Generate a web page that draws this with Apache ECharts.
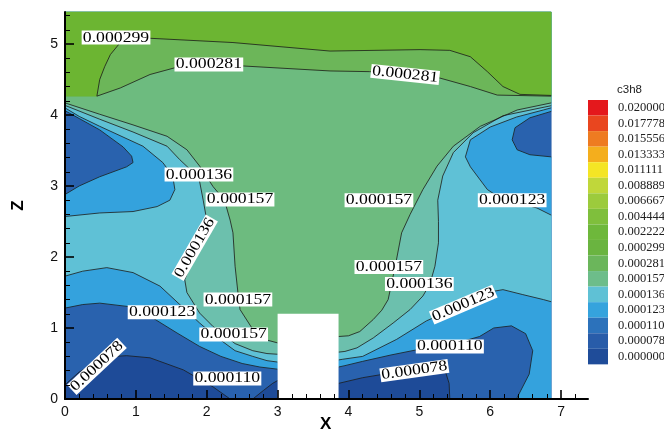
<!DOCTYPE html>
<html>
<head>
<meta charset="utf-8">
<title>c3h8 contours</title>
<script src="https://cdn.jsdelivr.net/npm/echarts@6/dist/echarts.min.js"></script>
<style>
  html, body { margin: 0; padding: 0; background: #ffffff; }
  #chart { width: 664px; height: 430px; }
</style>
</head>
<body>
<div id="chart"></div>
<script>
// ---- domain of the field (x, z) ----
const domainRight = 6.86;
const domainTop = 5.45;
const obstacleBox = [3.0, 3.86, 1.2];   // x from, x to, height

// ---- contour lines, one array per level and branch ([x, z] pairs) ----
const c078Left   = [[0,0.20],[0.2,0.38],[0.45,0.52],[0.7,0.60],[0.87,0.61],[1.2,0.58],[1.67,0.41],[2.09,0.17],[2.33,0]];
const c078Pocket = [[2.65,0],[2.8,0.12],[2.93,0.22],[3.0,0.26]];
const c078Right  = [[3.86,0.22],[4.2,0.30],[4.5,0.35],[4.93,0.40],[5.25,0.43],[5.37,0.38],[5.42,0.22],[5.43,0]];

const c110BlobLeft  = [[0,4.06],[0.2,3.95],[0.49,3.79],[0.82,3.55],[0.94,3.42],[0.96,3.33],[0.87,3.27],[0.49,3.13],[0.2,3.0],[0,2.88]];
const c110Left      = [[0,1.28],[0.25,1.33],[0.49,1.35],[0.91,1.30],[1.24,1.14],[1.58,0.93],[1.9,0.74],[2.2,0.60],[2.5,0.50],[2.75,0.45],[3.0,0.42]];
const c110Right     = [[3.86,0.45],[3.95,0.47],[4.2,0.53],[4.6,0.62],[5.0,0.70],[5.43,0.76],[5.85,0.88],[6.05,1.0],[6.3,1.03],[6.5,0.92],[6.6,0.68],[6.55,0.35],[6.37,0]];
const c110BlobRight = [[6.86,3.41],[6.56,3.44],[6.38,3.51],[6.31,3.65],[6.35,3.82],[6.56,3.96],[6.86,4.05]];

const c123UpperLeft  = [[0,4.10],[0.2,3.98],[0.49,3.84],[1.1,3.56],[1.38,3.33],[1.52,3.14],[1.55,2.95],[1.48,2.80],[1.3,2.71],[0.96,2.64],[0.49,2.62],[0,2.57]];
const c123Left       = [[0,1.73],[0.25,1.80],[0.59,1.85],[0.96,1.78],[1.34,1.59],[1.62,1.33],[1.9,1.07],[2.1,0.90],[2.4,0.68],[2.65,0.60],[2.85,0.54],[3.0,0.52]];
const c123Right      = [[3.86,0.55],[3.92,0.56],[4.2,0.60],[4.68,0.84],[5.1,1.10],[5.62,1.33],[5.95,1.50],[6.18,1.54],[6.46,1.47],[6.75,1.40],[6.86,1.37]];
const c123UpperRight = [[6.86,2.59],[6.66,2.69],[6.14,2.83],[5.96,2.95],[5.72,3.27],[5.65,3.41],[5.72,3.65],[6.0,3.83],[6.37,3.97],[6.75,4.07],[6.86,4.10]];

const c136Left  = [[0,4.135],[0.49,3.94],[0.96,3.76],[1.44,3.56],[1.62,3.37],[1.78,3.22],[1.9,3.06],[1.95,2.80],[2.0,2.52],[1.85,2.10],[1.69,1.68],[1.72,1.50],[1.9,1.21],[2.09,1.02],[2.4,0.78],[2.65,0.68],[2.85,0.64],[3.0,0.63]];
const c136Right = [[3.86,0.66],[3.95,0.67],[4.12,0.72],[4.35,0.86],[4.63,1.07],[4.87,1.26],[5.05,1.45],[5.15,1.62],[5.22,1.87],[5.27,2.20],[5.27,2.50],[5.26,2.80],[5.33,3.14],[5.48,3.47],[5.76,3.75],[6.18,3.99],[6.86,4.13]];

const c157Left  = [[0,4.17],[0.49,4.01],[0.96,3.86],[1.44,3.70],[1.72,3.51],[1.9,3.28],[2.09,2.99],[2.25,2.80],[2.33,2.52],[2.37,2.34],[2.4,1.87],[2.44,1.50],[2.47,1.26],[2.65,0.98],[2.85,0.83],[3.0,0.79]];
const c157Right = [[3.86,0.88],[4.0,0.89],[4.16,0.95],[4.35,1.12],[4.47,1.25],[4.56,1.40],[4.66,1.87],[4.75,2.34],[4.87,2.60],[5.05,2.95],[5.25,3.28],[5.48,3.56],[5.86,3.84],[6.38,4.07],[6.86,4.17]];

const c281 = [[0.45,4.265],[0.78,4.38],[1.2,4.57],[1.57,4.67],[2.51,4.69],[3.74,4.62],[4.3,4.61],[4.8,4.57],[5.29,4.52],[5.72,4.40],[6.1,4.28],[6.86,4.265]];
const c299 = [[0.45,4.265],[0.49,4.50],[0.56,4.68],[0.64,4.85],[0.78,5.02],[1.2,5.08],[2.37,5.02],[3.74,4.90],[5.01,4.92],[5.43,4.91],[5.72,4.82],[5.96,4.61],[6.18,4.40],[6.42,4.29],[6.86,4.275]];

// ---- contour label values and where they sit ----
const labelLevels = [0.000299, 0.000281, 0.000281, 0.000136, 0.000157, 0.000157, 0.000123, 0.000136, 0.000157,
                     0.000123, 0.000157, 0.000078, 0.000110, 0.000157, 0.000136, 0.000123, 0.000110, 0.000078];
const labelX      = [0.72, 2.03, 4.80, 1.89, 2.47, 4.43, 6.31, 1.83, 2.44, 1.37, 2.38, 0.45, 2.29, 4.57, 5.00, 5.62, 5.43, 4.93];
const labelZ      = [5.09, 4.71, 4.57, 3.16, 2.81, 2.80, 2.80, 2.13, 1.40, 1.22, 0.91, 0.46, 0.29, 1.86, 1.62, 1.33, 0.74, 0.40];
const labelAngle  = [0, 0, -6, 0, 0, 0, 0, 60, 0, 0, 0, 43, 0, 0, 0, 23, 0, 8];

// ---- legend levels (low to high) and colours ----
const legendLevels = [0.000000, 0.000078, 0.000110, 0.000123, 0.000136, 0.000157, 0.000281, 0.000299,
                      0.002222, 0.004444, 0.006667, 0.008889, 0.011111, 0.013333, 0.015556, 0.017778, 0.020000];
const legendColors = ['#1f4c99', '#285ca9', '#2c72bb', '#35a3dd', '#5fc1d5', '#6dbd8a', '#6bb65b', '#6ab440',
                      '#6eb83b', '#7fbf3c', '#9ccb3c', '#c0d73a', '#f4e525', '#f4ae1d', '#ee7b21', '#e9461f', '#e4181c'];

// ---- flood colours of the bands drawn in the field ----
const bandColors = {
  0:        '#1e4b98',
  0.000078: '#2962ae',
  0.000110: '#34a2dd',
  0.000123: '#5fc1d6',
  0.000136: '#6cc0ad',
  0.000157: '#6dbb7f',
  0.000281: '#6cb659',
  0.000299: '#6cb532'
};

// Regions where c3h8 >= level, assembled from the contour branches and the domain edges.
const R = domainRight, T = domainTop;
const floodLayers = [
  { level: 0,        path: [[0,0],[R,0],[R,T],[0,T]] },
  { level: 0.000078, path: [[0,T], ...c078Left, ...c078Pocket, ...c078Right, [R,0], [R,T]] },
  { level: 0.000110, path: [[0,T], ...c110BlobLeft, ...c110Left, ...c110Right, [R,0], ...c110BlobRight, [R,T]] },
  { level: 0.000123, path: [[0,T], ...c123UpperLeft, ...c123Left, ...c123Right, ...c123UpperRight, [R,T]] },
  { level: 0.000136, path: [[0,T], ...c136Left, ...c136Right, [R,T]] },
  { level: 0.000157, path: [[0,T], ...c157Left, ...c157Right, [R,T]] },
  { level: 0.000281, path: [[0,T], [0,4.265], ...c281, [R,T]] },
  { level: 0.000299, path: [[0,T], [0,4.265], ...c299, [R,T]] }
];

const contourLines = [
  c078Left, c078Pocket, c078Right,
  c110BlobLeft, c110Left, c110Right, c110BlobRight,
  c123UpperLeft, c123Left, c123Right, c123UpperRight,
  c136Left, c136Right, c157Left, c157Right, c281, c299
];

const sansFont = '"Liberation Sans", Arial, sans-serif';
const serifFont = '"Liberation Serif", "Times New Roman", serif';

const chart = echarts.init(document.getElementById('chart'), null, { renderer: 'canvas' });

const legendPieces = legendLevels.map((lv, i) => {
  const piece = { min: lv, label: lv.toFixed(6), color: legendColors[i] };
  if (i < legendLevels.length - 1) piece.max = legendLevels[i + 1];
  return piece;
});

const majorX = [0, 1, 2, 3, 4, 5, 6, 7];
const majorZ = [0, 1, 2, 3, 4, 5];

chart.setOption({
  animation: false,
  backgroundColor: '#ffffff',
  title: [
    {
      text: 'c3h8',
      left: 617, top: 84, padding: 0,
      textStyle: { fontFamily: sansFont, fontSize: 11.5, fontWeight: 'normal', color: '#222' }
    },
    {
      // horizontal axis title, sitting on the lower edge
      text: 'X',
      left: 320, top: 416, padding: 0,
      textStyle: { fontFamily: sansFont, fontSize: 17, fontWeight: 'bold', color: '#000' }
    }
  ],
  grid: { left: 65, right: 76, top: 12, bottom: 31, containLabel: false },
  xAxis: {
    type: 'value', min: 0, max: 7.38, interval: 1, z: 10,
    axisLine: { show: true, onZero: false, lineStyle: { color: '#000', width: 2 } },
    axisTick: { show: true, inside: true, length: 9, customValues: majorX, lineStyle: { color: '#000', width: 1.6 } },
    minorTick: { show: true, splitNumber: 5, length: 5, lineStyle: { color: '#000', width: 1 } },
    axisLabel: { customValues: majorX, margin: 6, fontFamily: sansFont, fontSize: 14, color: '#111' },
    splitLine: { show: false }
  },
  yAxis: {
    type: 'value', min: 0, max: domainTop, interval: 1, z: 10,
    name: 'Z', nameLocation: 'middle', nameRotate: 90, nameGap: 38,
    nameTextStyle: { fontFamily: sansFont, fontSize: 17, fontWeight: 'bold', color: '#000' },
    axisLine: { show: true, onZero: false, lineStyle: { color: '#000', width: 2 } },
    axisTick: { show: true, inside: true, length: 9, customValues: majorZ, lineStyle: { color: '#000', width: 1.6 } },
    minorTick: { show: true, splitNumber: 5, length: 5, lineStyle: { color: '#000', width: 1 } },
    axisLabel: { customValues: majorZ, margin: 7, fontFamily: sansFont, fontSize: 14, color: '#111' },
    splitLine: { show: false }
  },
  visualMap: {
    type: 'piecewise',
    seriesIndex: [],
    orient: 'vertical',
    align: 'left',
    left: 573, top: 85,
    itemWidth: 20, itemHeight: 15.55, itemGap: 0, textGap: 10,
    itemSymbol: 'rect',
    hoverLink: false,
    selectedMode: false,
    pieces: legendPieces,
    textStyle: { fontFamily: serifFont, fontSize: 12.5, color: '#222' }
  },
  series: [
    {
      // flooded bands
      type: 'custom', silent: true, z: 2,
      data: floodLayers.map(l => l.path[0]),
      renderItem: (params, api) => {
        const layer = floodLayers[params.dataIndex];
        return {
          type: 'polygon',
          shape: { points: layer.path.map(p => api.coord(p)) },
          style: { fill: bandColors[layer.level], stroke: bandColors[layer.level], lineWidth: 0.3 }
        };
      }
    },
    {
      // contour lines
      type: 'custom', silent: true, z: 3,
      data: contourLines.map(l => l[0]),
      renderItem: (params, api) => ({
        type: 'polyline',
        shape: { points: contourLines[params.dataIndex].map(p => api.coord(p)) },
        style: { stroke: '#1b1b1b', lineWidth: 0.8, fill: null }
      })
    },
    {
      // solid block sitting on the floor
      type: 'custom', silent: true, z: 4,
      data: [[obstacleBox[0], 0]],
      renderItem: (params, api) => {
        const a = api.coord([obstacleBox[0], obstacleBox[2]]);
        const b = api.coord([obstacleBox[1], 0]);
        return {
          type: 'rect',
          shape: { x: a[0], y: a[1], width: b[0] - a[0], height: b[1] - a[1] },
          style: { fill: '#ffffff' }
        };
      }
    },
    {
      // contour value labels
      type: 'custom', silent: true, z: 5,
      data: labelX.map((x, i) => [x, labelZ[i]]),
      renderItem: (params, api) => {
        const i = params.dataIndex;
        const p = api.coord([labelX[i], labelZ[i]]);
        return {
          type: 'text',
          x: p[0], y: p[1],
          rotation: labelAngle[i] * Math.PI / 180,
          scaleX: 1.18,
          style: {
            text: labelLevels[i].toFixed(6),
            font: '15px ' + serifFont,
            fill: '#000',
            align: 'center',
            verticalAlign: 'middle',
            backgroundColor: '#ffffff',
            padding: [0, 1],
            lineHeight: 14
          }
        };
      }
    }
  ]
});
</script>
</body>
</html>
